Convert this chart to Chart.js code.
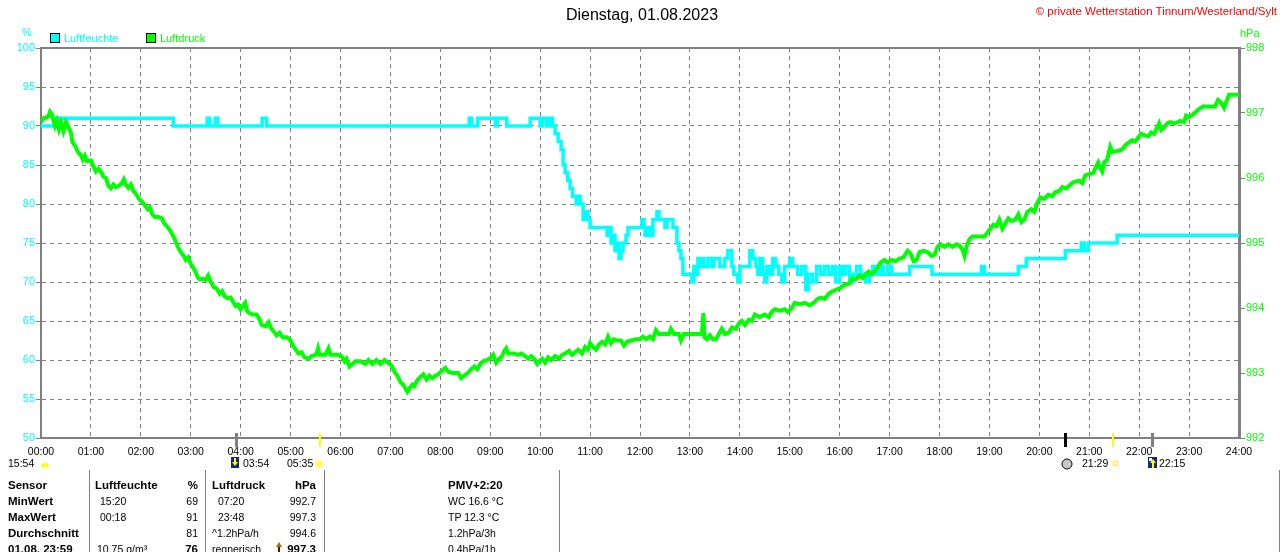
<!DOCTYPE html>
<html>
<head>
<meta charset="utf-8">
<script src="https://cdn.jsdelivr.net/npm/chart.js"></script>
<style>
body { margin: 0; background: #fff; }
#wrap { position: relative; width: 1280px; height: 552px; overflow: hidden; font-family: "Liberation Sans", Arial, sans-serif; }
#wrap canvas { position: absolute; left: 0; top: 0; }
.t { position: absolute; white-space: nowrap; font-size: 10.5px; line-height: 12px; color: #000; }
.b { font-weight: bold; font-size: 11.5px; }
.vl { position: absolute; width: 1px; background: #808080; top: 470px; height: 82px; }
</style>
</head>
<body>
<div id="wrap"><canvas id="myChart" width="1280" height="552"></canvas></div>
<script>
// hours for the x axis
const hourLabels = ["00:00","01:00","02:00","03:00","04:00","05:00","06:00","07:00","08:00","09:00","10:00","11:00","12:00",
  "13:00","14:00","15:00","16:00","17:00","18:00","19:00","20:00","21:00","22:00","23:00","24:00"];

// Luftfeuchte (%), step values: time in hours -> value from then on
const humTimes = [0,0.30,2.65,3.33,3.38,3.49,3.54,4.43,4.52,8.58,8.63,8.75,9.10,9.14,9.33,9.80,10.0,10.05,10.13,10.18,10.25,
  10.30,10.36,10.42,10.46,10.50,10.55,10.60,10.65,10.72,10.76,10.80,10.86,10.92,10.96,11.00,11.34,11.38,11.42,11.46,11.50,
  11.54,11.58,11.62,11.66,11.72,11.76,12.04,12.08,12.10,12.16,12.20,12.26,12.34,12.38,12.50,12.54,12.66,12.74,12.78,12.82,
  12.86,13.04,13.08,13.12,13.16,13.20,13.24,13.28,13.36,13.44,13.48,13.60,13.70,13.76,13.84,13.88,13.96,14.00,14.20,14.26,
  14.32,14.36,14.40,14.46,14.50,14.54,14.60,14.66,14.72,14.78,14.84,14.90,15.00,15.06,15.16,15.24,15.32,15.38,15.46,15.54,
  15.62,15.70,15.78,15.86,15.92,16.00,16.06,16.12,16.20,16.26,16.34,16.42,16.52,16.60,16.66,16.74,16.82,16.88,16.96,17.04,
  17.40,17.85,18.84,18.90,19.58,19.74,20.52,20.84,20.90,20.98,21.56,24.00];
const humValues = [90,91,90,91,90,91,90,91,90,91,90,91,90,91,90,91,90,91,90,91,90,
  89,88,87,85,84,83,82,81,80,81,80,78,79,78,77,76,77,75,76,74,
  75,73,74,75,76,77,78,77,76,77,76,78,79,78,77,78,77,75,74,73,
  71,70,72,71,73,72,73,72,73,72,73,72,73,74,72,71,70,72,74,73,
  72,71,73,71,70,72,71,73,72,71,70,72,73,72,71,72,69,71,70,72,
  71,72,71,72,70,72,71,72,70,71,72,71,70,71,72,71,72,71,72,71,
  72,71,72,71,72,73,74,75,74,75,76,76];

// Luftdruck (hPa)
const presTimes = [0,0.05,0.10,0.15,0.18,0.22,0.25,0.28,0.32,0.36,0.40,0.45,0.50,0.55,0.60,0.63,0.68,0.72,0.76,0.80,0.84,0.88,
  0.92,1.00,1.05,1.10,1.15,1.20,1.25,1.30,1.35,1.40,1.45,1.50,1.56,1.62,1.66,1.70,1.75,1.80,1.85,1.90,1.96,2.02,2.08,2.14,
  2.18,2.23,2.28,2.35,2.42,2.47,2.52,2.58,2.64,2.68,2.72,2.77,2.82,2.86,2.90,2.95,3.00,3.05,3.10,3.14,3.18,3.24,3.30,3.35,
  3.40,3.46,3.52,3.58,3.63,3.68,3.74,3.80,3.86,3.90,3.95,4.00,4.05,4.09,4.13,4.18,4.24,4.32,4.38,4.42,4.50,4.56,4.60,4.66,
  4.72,4.78,4.84,4.92,4.98,5.05,5.10,5.16,5.22,5.28,5.36,5.42,5.48,5.52,5.55,5.58,5.70,5.76,5.80,5.95,6.02,6.08,6.12,6.18,
  6.24,6.30,6.40,6.50,6.56,6.64,6.72,6.80,6.88,6.95,7.02,7.08,7.14,7.20,7.26,7.30,7.34,7.38,7.44,7.48,7.54,7.60,7.66,7.72,
  7.78,7.84,7.90,7.96,8.04,8.10,8.16,8.24,8.36,8.42,8.48,8.55,8.62,8.68,8.74,8.80,8.86,8.94,9.02,9.06,9.12,9.18,9.24,9.28,
  9.32,9.36,9.48,9.56,9.62,9.70,9.76,9.82,9.88,9.94,9.98,10.04,10.10,10.16,10.22,10.30,10.38,10.44,10.50,10.58,10.64,10.70,
  10.76,10.84,10.90,10.96,11.00,11.06,11.12,11.18,11.24,11.30,11.36,11.42,11.48,11.54,11.62,11.68,11.74,11.82,11.92,12.00,
  12.06,12.12,12.20,12.26,12.32,12.38,12.50,12.58,12.62,12.68,12.78,12.82,12.88,13.24,13.27,13.29,13.34,13.40,13.46,13.52,
  13.58,13.64,13.70,13.78,13.84,13.92,13.98,14.04,14.10,14.18,14.24,14.30,14.40,14.50,14.58,14.64,14.70,14.80,14.90,14.96,
  15.04,15.10,15.20,15.30,15.40,15.48,15.56,15.62,15.70,15.78,15.84,15.92,16.00,16.06,16.12,16.20,16.26,16.32,16.40,16.46,
  16.52,16.58,16.64,16.70,16.76,16.82,16.90,16.96,17.04,17.12,17.20,17.28,17.36,17.42,17.48,17.54,17.60,17.68,17.76,17.84,
  17.90,17.96,18.02,18.10,18.18,18.26,18.34,18.40,18.46,18.50,18.54,18.60,18.66,18.80,18.90,18.96,19.02,19.08,19.14,19.20,
  19.26,19.32,19.38,19.44,19.52,19.58,19.64,19.70,19.76,19.84,19.90,19.96,20.02,20.10,20.18,20.26,20.32,20.40,20.46,20.54,
  20.62,20.70,20.80,20.86,20.92,21.00,21.08,21.14,21.18,21.22,21.26,21.30,21.36,21.42,21.46,21.60,21.66,21.72,21.78,21.86,
  21.92,21.98,22.04,22.10,22.18,22.24,22.30,22.36,22.40,22.44,22.50,22.56,22.62,22.72,22.82,22.90,22.94,23.00,23.08,23.14,
  23.20,23.28,23.40,23.52,23.58,23.64,23.70,23.76,23.80,24.00];
const presValues = [996.86,996.92,996.93,996.95,997.02,996.98,996.88,996.80,996.88,996.75,996.85,996.72,996.86,996.78,996.70,
  996.55,996.50,996.43,996.38,996.35,996.28,996.34,996.26,996.27,996.18,996.10,996.14,996.10,996.02,996.00,995.88,995.84,
  995.90,995.86,995.88,995.92,995.98,995.90,995.85,995.90,995.80,995.76,995.68,995.64,995.58,995.52,995.55,995.44,995.40,
  995.40,995.38,995.30,995.26,995.20,995.12,995.06,994.98,994.90,994.84,994.80,994.74,994.78,994.68,994.62,994.55,994.47,
  994.44,994.45,994.43,994.50,994.40,994.32,994.30,994.22,994.26,994.18,994.15,994.16,994.08,994.03,994.05,993.98,994.04,
  994.08,993.95,993.92,993.90,993.90,993.82,993.74,993.72,993.78,993.70,993.64,993.58,993.62,993.55,993.55,993.52,993.42,
  993.36,993.30,993.32,993.24,993.22,993.26,993.27,993.30,993.38,993.28,993.28,993.38,993.28,993.28,993.26,993.18,993.22,
  993.10,993.14,993.18,993.18,993.14,993.20,993.14,993.20,993.14,993.20,993.16,993.12,993.02,992.96,992.86,992.82,992.76,
  992.71,992.76,992.82,992.80,992.89,992.94,992.98,992.90,992.96,992.92,992.96,992.98,993.04,993.08,993.02,993.00,993.00,
  992.92,992.96,993.00,993.06,993.10,993.06,993.14,993.18,993.20,993.24,993.28,993.16,993.22,993.26,993.34,993.38,993.30,
  993.30,993.28,993.30,993.26,993.22,993.26,993.22,993.14,993.18,993.22,993.16,993.24,993.20,993.26,993.22,993.28,993.30,
  993.34,993.28,993.32,993.36,993.30,993.40,993.36,993.46,993.40,993.36,993.44,993.48,993.44,993.56,993.46,993.52,993.50,
  993.50,993.42,993.48,993.50,993.52,993.52,993.56,993.52,993.56,993.52,993.66,993.60,993.60,993.60,993.68,993.60,993.60,
  993.50,993.60,993.60,993.92,993.55,993.52,993.58,993.52,993.52,993.60,993.68,993.60,993.62,993.70,993.68,993.76,993.80,
  993.74,993.82,993.80,993.90,993.86,993.90,993.86,993.94,993.98,993.96,993.98,993.94,994.00,994.08,994.06,994.08,994.04,
  994.08,994.14,994.16,994.14,994.22,994.25,994.28,994.30,994.34,994.36,994.38,994.46,994.44,994.50,994.46,994.52,994.56,
  994.52,994.56,994.62,994.70,994.74,994.70,994.74,994.72,994.76,994.78,994.88,994.84,994.72,994.74,994.86,994.88,994.86,
  994.80,994.82,994.94,994.98,994.94,994.98,994.94,994.98,994.96,994.90,994.80,994.94,995.06,995.10,995.10,995.10,995.16,
  995.22,995.28,995.26,995.36,995.22,995.30,995.38,995.34,995.36,995.44,995.32,995.36,995.48,995.52,995.48,995.62,995.70,
  995.68,995.74,995.72,995.78,995.80,995.86,995.84,995.90,995.94,995.96,995.92,996.04,996.06,996.08,996.18,996.24,996.16,
  996.10,996.24,996.28,996.48,996.40,996.42,996.44,996.50,996.54,996.58,996.56,996.62,996.68,996.66,996.64,996.70,996.68,
  996.78,996.84,996.74,996.78,996.84,996.86,996.84,996.88,996.86,996.96,996.94,996.98,997.02,997.06,997.10,997.10,997.10,
  997.20,997.16,997.08,997.20,997.28,997.28];

// sun / moon events on the time axis (hours)
const eventTimes = [3.9, 5.583, 20.52, 21.483, 22.25];
const eventColors = ["#808080", "#ffff00", "#000000", "#ffff00", "#808080"];

const humColor = "#00ffff";
const presColor = "#00ff00";
const gridGray = "#808080";

// text overlays
const wrap = document.getElementById("wrap");
function put(text, x, y, cls, color, align, size) {
  let el = document.createElement("div");
  el.className = "t" + (cls ? " " + cls : "");
  el.textContent = text;
  if (color) el.style.color = color;
  if (size) { el.style.fontSize = size + "px"; el.style.lineHeight = (size + 2) + "px"; }
  let h = size ? size + 2 : 12;
  el.style.top = (y - h / 2) + "px";
  if (align === "right") el.style.right = (1280 - x) + "px";
  else if (align === "center") { el.style.left = x + "px"; el.style.transform = "translateX(-50%)"; }
  else el.style.left = x + "px";
  wrap.appendChild(el);
}

put("Dienstag, 01.08.2023", 642, 15, "", "#000", "center", 16);
put("© private Wetterstation Tinnum/Westerland/Sylt", 1277, 12, "", "#ff0000", "right", 11.5);
put("%", 22, 32, "", humColor, "left", 11);
put("hPa", 1240, 33, "", presColor, "left", 11);
put("Luftfeuchte", 64, 38, "", humColor, "left", 11);
put("Luftdruck", 160, 38, "", presColor, "left", 11);

// sun row
put("15:54", 8, 463);
put("03:54", 243, 463);
put("05:35", 287, 463);
put("21:29", 1082, 463);
put("22:15", 1159, 463);

// table
const rowY = [485, 501, 517, 533, 549];
const col1 = ["Sensor", "MinWert", "MaxWert", "Durchschnitt", "01.08. 23:59"];
const col2 = ["Luftfeuchte", "15:20", "00:18", "", "10.75 g/m³"];
const col3 = ["%", "69", "91", "81", "76"];
const col4 = ["Luftdruck", "07:20", "23:48", "^1.2hPa/h", "regnerisch"];
const col5 = ["hPa", "992.7", "997.3", "994.6", "997.3"];
const col6 = ["PMV+2:20", "WC 16.6 °C", "TP 12.3 °C", "1.2hPa/3h", "0.4hPa/1h"];
for (let i = 0; i < rowY.length; i++) {
  let y = rowY[i];
  put(col1[i], 8, y, "b");
  put(col2[i], i === 0 ? 95 : (i === 4 ? 97 : 100), y, i === 0 ? "b" : "");
  put(col3[i], 198, y, (i === 0 || i === 4) ? "b" : "", null, "right");
  put(col4[i], (i === 1 || i === 2) ? 218 : 212, y, i === 0 ? "b" : "");
  put(col5[i], 316, y, (i === 0 || i === 4) ? "b" : "", null, "right");
  put(col6[i], 448, y, i === 0 ? "b" : "");
}
[89, 205, 324, 559, 1279].forEach(function (x) {
  let d = document.createElement("div");
  d.className = "vl";
  d.style.left = x + "px";
  wrap.appendChild(d);
});

// extras drawn on canvas
const extras = {
  id: "extras",
  afterDraw(chart) {
    const ctx = chart.ctx;
    const a = chart.chartArea;
    const xs = chart.scales.x;
    ctx.save();
    // frame
    ctx.strokeStyle = gridGray;
    ctx.lineWidth = 2;
    ctx.beginPath();
    ctx.moveTo(a.left, a.top);
    ctx.lineTo(a.right, a.top);
    ctx.stroke();
    // event marks
    for (let i = 0; i < eventTimes.length; i++) {
      let x = Math.round(xs.getPixelForValue(eventTimes[i]));
      ctx.fillStyle = eventColors[i];
      ctx.fillRect(x - 1, a.bottom - 5, eventColors[i] === "#ffff00" ? 2 : 3, 14);
    }
    // legend boxes
    ctx.lineWidth = 1;
    ctx.strokeStyle = "#000";
    ctx.fillStyle = humColor;
    ctx.fillRect(50.5, 33.5, 9, 9);
    ctx.strokeRect(50.5, 33.5, 9, 9);
    ctx.fillStyle = presColor;
    ctx.fillRect(146.5, 33.5, 9, 9);
    ctx.strokeRect(146.5, 33.5, 9, 9);
    // half sun at start
    ctx.fillStyle = "#ffff00";
    ctx.beginPath();
    ctx.arc(45, 467, 4, Math.PI, 0);
    ctx.fill();
    // moon set icon
    ctx.fillStyle = "#1a237e";
    ctx.fillRect(231, 457, 8, 11);
    ctx.fillStyle = "#ffff00";
    ctx.fillRect(234, 458, 2, 5);
    ctx.beginPath();
    ctx.moveTo(232, 462); ctx.lineTo(238, 462); ctx.lineTo(235, 466); ctx.fill();
    // sun
    ctx.fillStyle = "#ffff66";
    ctx.beginPath();
    ctx.arc(319, 464, 4, 0, Math.PI * 2);
    ctx.fill();
    // full moon
    ctx.fillStyle = "#c8c8c8";
    ctx.strokeStyle = "#000";
    ctx.beginPath();
    ctx.arc(1067, 464, 5, 0, Math.PI * 2);
    ctx.fill();
    ctx.stroke();
    // small yellow square
    ctx.strokeStyle = "#ffff00";
    ctx.strokeRect(1113.5, 461.5, 4, 4);
    // moon rise icon
    ctx.fillStyle = "#1a237e";
    ctx.fillRect(1148, 457, 9, 11);
    ctx.fillStyle = "#fff";
    ctx.fillRect(1149, 458, 3, 3);
    ctx.fillStyle = "#ffff00";
    ctx.beginPath();
    ctx.moveTo(1150, 463); ctx.lineTo(1156, 463); ctx.lineTo(1153, 459); ctx.fill();
    ctx.fillRect(1152, 463, 2, 5);
    // trend arrow in table
    ctx.fillStyle = "#c06000";
    ctx.beginPath();
    ctx.moveTo(276, 547); ctx.lineTo(282, 547); ctx.lineTo(279, 542); ctx.fill();
    ctx.fillStyle = "#402000";
    ctx.fillRect(278, 547, 2, 5);
    ctx.restore();
  }
};

const humData = humTimes.map((t, i) => ({ x: t, y: humValues[i] }));
const presData = presTimes.map((t, i) => ({ x: t, y: presValues[i] }));

new Chart("myChart", {
  type: "line",
  data: {
    datasets: [
      {
        label: "Luftdruck",
        data: presData,
        yAxisID: "y1",
        borderColor: presColor,
        borderWidth: 4,
        pointRadius: 0,
        tension: 0,
      },
      {
        label: "Luftfeuchte",
        data: humData,
        yAxisID: "y",
        borderColor: humColor,
        borderWidth: 3.5,
        pointRadius: 0,
        stepped: "before",
        order: 1,
      },
    ],
  },
  options: {
    responsive: false,
    animation: false,
    devicePixelRatio: 1,
    layout: { padding: { top: 48, left: 0, right: 0, bottom: 0 } },
    plugins: { legend: { display: false }, tooltip: { enabled: false } },
    scales: {
      x: {
        type: "linear",
        min: 0,
        max: 24,
        afterFit: (s) => { s.height = 114; },
        ticks: {
          stepSize: 1,
          autoSkip: false,
          maxRotation: 0,
          padding: 8,
          color: "#000",
          font: { family: "Liberation Sans", size: 10.5 },
          callback: (v) => hourLabels[v],
        },
        grid: { color: gridGray, lineWidth: 1, drawTicks: false },
        border: { color: gridGray, width: 2, dash: [4, 4] },
      },
      y: {
        position: "left",
        min: 50,
        max: 100,
        afterFit: (s) => { s.width = 41; },
        ticks: {
          stepSize: 5,
          padding: 1,
          color: humColor,
          font: { family: "Liberation Sans", size: 11 },
        },
        grid: { color: gridGray, lineWidth: 1, tickLength: 5, tickBorderDash: [] },
        border: { color: gridGray, width: 2, dash: [4, 4] },
      },
      y1: {
        position: "right",
        min: 992,
        max: 998,
        afterFit: (s) => { s.width = 41; },
        ticks: {
          stepSize: 1,
          padding: 1,
          color: presColor,
          font: { family: "Liberation Sans", size: 11 },
        },
        grid: { drawOnChartArea: false, color: gridGray, tickLength: 6, tickBorderDash: [] },
        border: { color: gridGray, width: 3 },
      },
    },
  },
  plugins: [extras],
});
</script>
</body>
</html>
